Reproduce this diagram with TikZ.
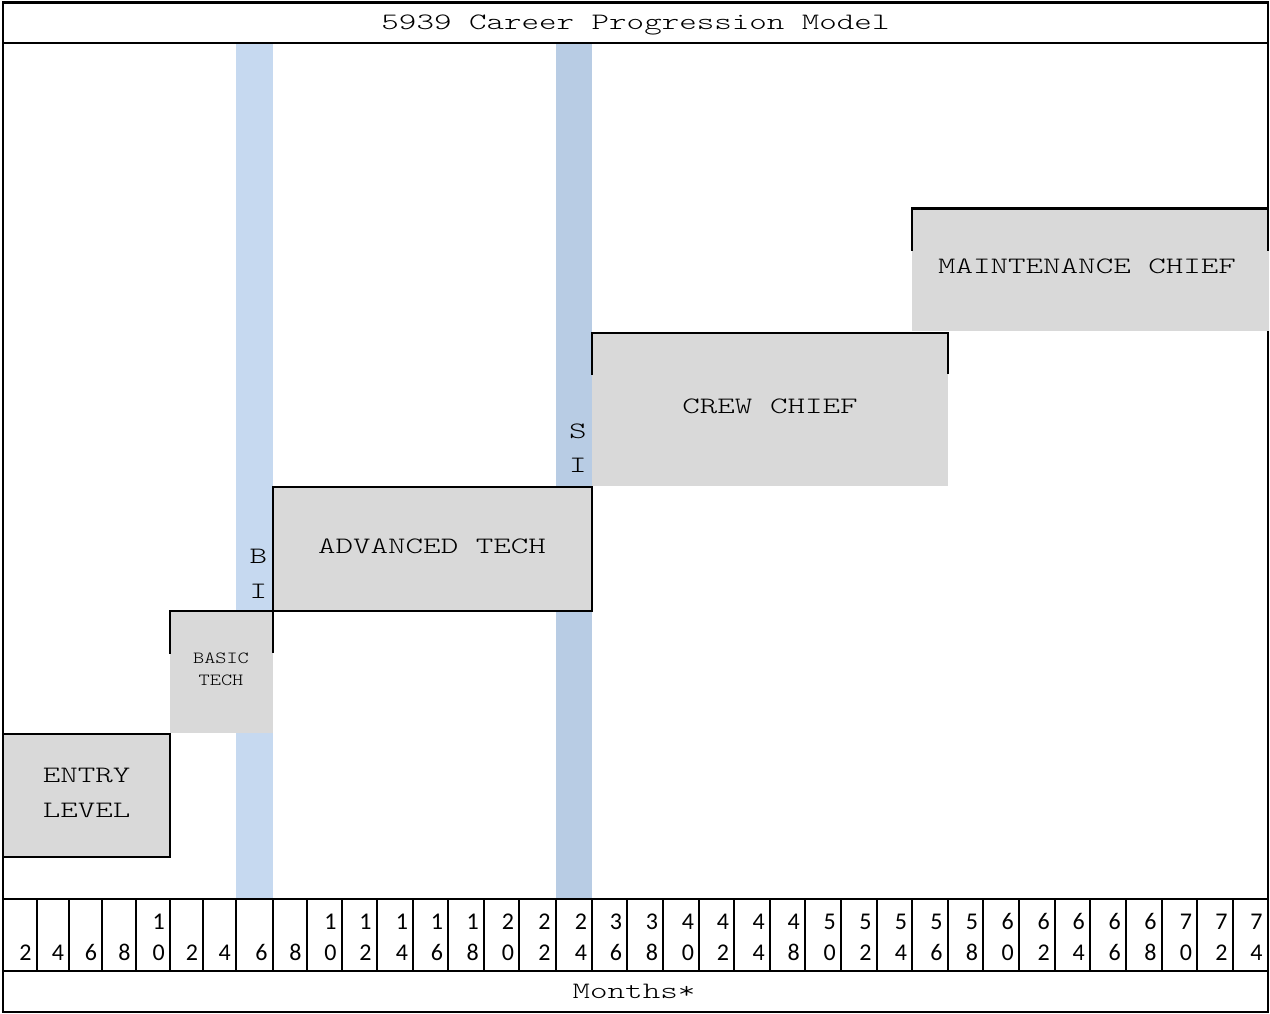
\documentclass[tikz,border=0pt]{standalone}
\usepackage{fontspec}
\setmainfont{Carlito}
\newfontfamily\cour[FakeStretch=1.42]{lmmonolt10-regular.otf}
\newfontfamily\cours[FakeStretch=1.25]{lmmonolt10-regular.otf}
\definecolor{boxgray}{RGB}{217,217,217}
\definecolor{bluelight}{RGB}{198,217,240}
\definecolor{bluedark}{RGB}{184,204,228}
\begin{document}
\begin{tikzpicture}[x=1pt,y=-1pt,
  rule/.style={line width=2.3pt, line cap=rect},
  gfill/.style={fill=boxgray},
  lbl/.style={font=\cour\fontsize{23.5}{35}\selectfont, inner sep=0pt, align=center, text=black},
  smalllbl/.style={font=\cours\fontsize{17}{22}\selectfont, inner sep=0pt, align=center, text=black},
  dig/.style={font=\fontsize{24}{30}\selectfont, inner sep=0pt, anchor=base east},
]
\useasboundingbox (0,0) rectangle (1270,1014);
% training columns
\fill[bluelight] (236,43) rectangle (272.7,899);
\fill[bluedark] (555.7,43) rectangle (592.3,899);
% box fills
\fill[gfill] (3.3,734) rectangle (170,857);
\fill[gfill] (170,611) rectangle (272.7,733);
\fill[gfill] (272.7,487) rectangle (592.3,611);
\fill[gfill] (592.3,333) rectangle (947.7,486);
% frame
\draw[rule] (3.3,2.5) rectangle (1267.7,1012.3);
\draw[rule] (3.3,43) -- (1267.7,43);
\draw[rule] (3.3,899) -- (1267.7,899);
\draw[rule] (3.3,971) -- (1267.7,971);
% maintenance chief fill over frame
\fill[gfill] (912.3,209) rectangle (1269,331);
% box borders
\draw[rule] (3.3,734) rectangle (170,857);
\draw[rule] (170,653) -- (170,611) -- (272.7,611) -- (272.7,652);
\draw[rule] (272.7,487) rectangle (592.3,611);
\draw[rule] (592.3,374) -- (592.3,333) -- (947.7,333) -- (947.7,373);
\draw[rule] (912.3,250) -- (912.3,208.5) -- (1267.7,208.5) -- (1267.7,250);
% texts
\node[lbl, anchor=base] (title) at (635.5,30) {5939 Career Progression Model};
\node[lbl, anchor=base] (months) at (634,998) {Months*};
\node[lbl] (entry) at (86.7,792.5) {ENTRY\\LEVEL};
\node[smalllbl] (basic) at (221,669.5) {BASIC\\TECH};
\node[lbl, anchor=base] (adv) at (432,553) {ADVANCED TECH};
\node[lbl, anchor=base] (crew) at (770,413) {CREW CHIEF};
\node[lbl, anchor=base] (maint) at (1087,273) {MAINTENANCE CHIEF};
\node[lbl, anchor=base] (bi1) at (258.5,563) {B};
\node[lbl, anchor=base] (bi2) at (258.5,598) {I};
\node[lbl, anchor=base] (si1) at (578,438) {S};
\node[lbl, anchor=base] (si2) at (578,472) {I};
% month axis
\foreach \a/\b/\l [count=\i] in {3.3/36.7/2, 36.7/69.3/4, 69.3/102.3/6, 102.3/135.7/8,
  135.7/170/10, 170/203.3/2, 203.3/236/4, 236/272.7/6, 272.7/306.7/8, 306.7/341.7/10,
  341.7/376.7/12, 376.7/413.3/14, 413.3/448.3/16, 448.3/484/18, 484/519.3/20,
  519.3/555.7/22, 555.7/592.3/24, 592.3/627.3/36, 627.3/663.3/38, 663.3/699.3/40,
  699.3/734.3/42, 734.3/770/44, 770/805/48, 805/841/50, 841/876.7/52, 876.7/912.3/54,
  912.3/947.7/56, 947.7/983.3/58, 983.3/1019/60, 1019/1055/62, 1055/1090/64,
  1090/1126/66, 1126/1161.7/68, 1161.7/1197.3/70, 1197.3/1232.7/72, 1232.7/1267.7/74}{
  \draw[rule] (\b,899) -- (\b,971);
  \ifnum\l>9
    \pgfmathtruncatemacro\hi{\l/10}
    \pgfmathtruncatemacro\lo{mod(\l,10)}
    \node[dig] (t\i) at (\b-5,929) {\hi};
    \node[dig] (m\i) at (\b-5,960) {\lo};
  \else
    \node[dig] (m\i) at (\b-5,960) {\l};
  \fi
}
\end{tikzpicture}
\end{document}
